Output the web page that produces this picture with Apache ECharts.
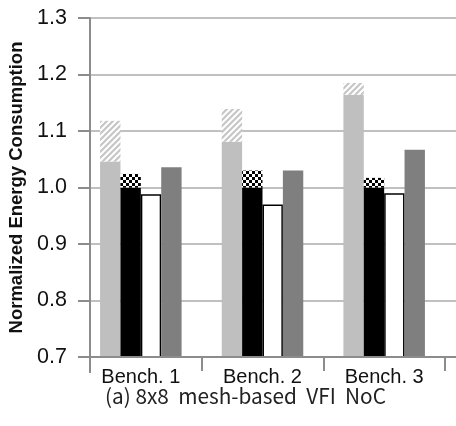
<!DOCTYPE html>
<html>
<head>
<meta charset="utf-8">
<script src="https://cdn.jsdelivr.net/npm/echarts@6/dist/echarts.min.js"></script>
<style>
html,body{margin:0;padding:0;background:#fff;}
#chart{width:456px;height:426px;}
</style>
</head>
<body>
<div id="chart"></div>
<script>
// ---- data ----
const categories = ['Bench. 1', 'Bench. 2', 'Bench. 3'];
const lightBase = [1.046, 1.081, 1.164];
const lightTop = [1.118, 1.139, 1.185];
const blackBase = [1.0, 1.0, 1.0];
const blackTop = [1.024, 1.030, 1.017];
const whiteBar = [0.988, 0.970, 0.990];
const darkBar = [1.036, 1.030, 1.067];
const yMin = 0.7, yMax = 1.3, yStep = 0.1;

const lightDelta = lightTop.map((v, i) => +(v - lightBase[i]).toFixed(4));
const blackDelta = blackTop.map((v, i) => +(v - blackBase[i]).toFixed(4));

function hatchPattern() {
  const c = document.createElement('canvas');
  c.width = 6; c.height = 6;
  const g = c.getContext('2d');
  g.fillStyle = '#ffffff'; g.fillRect(0, 0, 6, 6);
  g.strokeStyle = '#c6c6c6'; g.lineWidth = 2.2;
  g.beginPath();
  g.moveTo(-1, 7); g.lineTo(7, -1);
  g.moveTo(-4, 4); g.lineTo(4, -4);
  g.moveTo(2, 10); g.lineTo(10, 2);
  g.stroke();
  return c;
}
function checkerPattern() {
  const c = document.createElement('canvas');
  c.width = 6; c.height = 6;
  const g = c.getContext('2d');
  g.fillStyle = '#000000'; g.fillRect(0, 0, 6, 6);
  g.fillStyle = '#ffffff';
  g.fillRect(0, 0, 3, 3); g.fillRect(3, 3, 3, 3);
  return c;
}

const chart = echarts.init(document.getElementById('chart'), null, {renderer: 'canvas'});
const axisGray = '#8c8c8c';
const gridGray = '#c0c0c0';

const option = {
  backgroundColor: '#ffffff',
  animation: false,
  title: {
    text: '(a) 8x8  mesh-based  VFI  NoC',
    left: 100, top: 381,
    textStyle: {fontFamily: 'Noto Sans CJK KR', fontWeight: 'normal', fontSize: 20.8, color: '#222222'}
  },
  grid: [
    {left: 90, right: -3, top: 18, bottom: 69, outerBoundsMode: 'none', containLabel: false},
    {left: 80, right: 11, top: 18, bottom: 69, outerBoundsMode: 'none', containLabel: false}
  ],
  xAxis: [
    {
      gridIndex: 0, type: 'category', data: [''], boundaryGap: true, z: 5,
      axisLine: {show: true, lineStyle: {color: axisGray, width: 2}},
      axisTick: {show: true, length: 16, lineStyle: {color: axisGray, width: 2}},
      axisLabel: {show: false}, splitLine: {show: false}
    },
    {
      gridIndex: 1, type: 'category', data: categories, boundaryGap: true,
      axisLine: {show: false},
      axisTick: {show: true, length: 14, interval: function (index) { return index > 0; },
        lineStyle: {color: axisGray, width: 2}},
      axisLabel: {show: true, margin: 10, color: '#111111', fontSize: 20,
        fontFamily: 'Liberation Sans, Arial, sans-serif'},
      splitLine: {show: false}
    }
  ],
  yAxis: [
    {
      gridIndex: 0, type: 'value', min: yMin, max: yMax, interval: yStep,
      name: 'Normalized Energy Consumption', nameLocation: 'middle', nameGap: 54,
      nameTextStyle: {fontFamily: 'Liberation Sans, Arial, sans-serif', fontWeight: 'bold',
        fontSize: 18.5, color: '#111111'},
      axisLine: {show: true, lineStyle: {color: axisGray, width: 2}},
      axisTick: {show: true, length: 12, lineStyle: {color: axisGray, width: 2}},
      axisLabel: {margin: 23, fontSize: 21.5, color: '#111111',
        fontFamily: 'Liberation Sans, Arial, sans-serif',
        formatter: v => v.toFixed(1)},
      splitLine: {show: true, lineStyle: {color: gridGray, width: 2}}
    },
    {
      gridIndex: 1, type: 'value', min: yMin, max: yMax, interval: yStep,
      show: false, splitLine: {show: false}
    }
  ],
  series: [
    {type: 'bar', name: 'base', xAxisIndex: 1, yAxisIndex: 1, stack: 'a', data: lightBase,
      barGap: '0%', barCategoryGap: '33%', itemStyle: {color: '#bfbfbf'}},
    {type: 'bar', name: 'extra', xAxisIndex: 1, yAxisIndex: 1, stack: 'a', data: lightDelta,
      itemStyle: {color: {image: hatchPattern(), repeat: 'repeat'}}},
    {type: 'bar', name: 'black', xAxisIndex: 1, yAxisIndex: 1, stack: 'b', data: blackBase,
      itemStyle: {color: '#000000'}},
    {type: 'bar', name: 'checker', xAxisIndex: 1, yAxisIndex: 1, stack: 'b', data: blackDelta,
      itemStyle: {color: {image: checkerPattern(), repeat: 'repeat'}}},
    {type: 'bar', name: 'white', xAxisIndex: 1, yAxisIndex: 1, data: whiteBar,
      itemStyle: {color: '#ffffff', borderColor: '#000000', borderWidth: 1.5}},
    {type: 'bar', name: 'dark', xAxisIndex: 1, yAxisIndex: 1, data: darkBar,
      itemStyle: {color: '#7f7f7f'}}
  ]
};
chart.setOption(option);
</script>
</body>
</html>
